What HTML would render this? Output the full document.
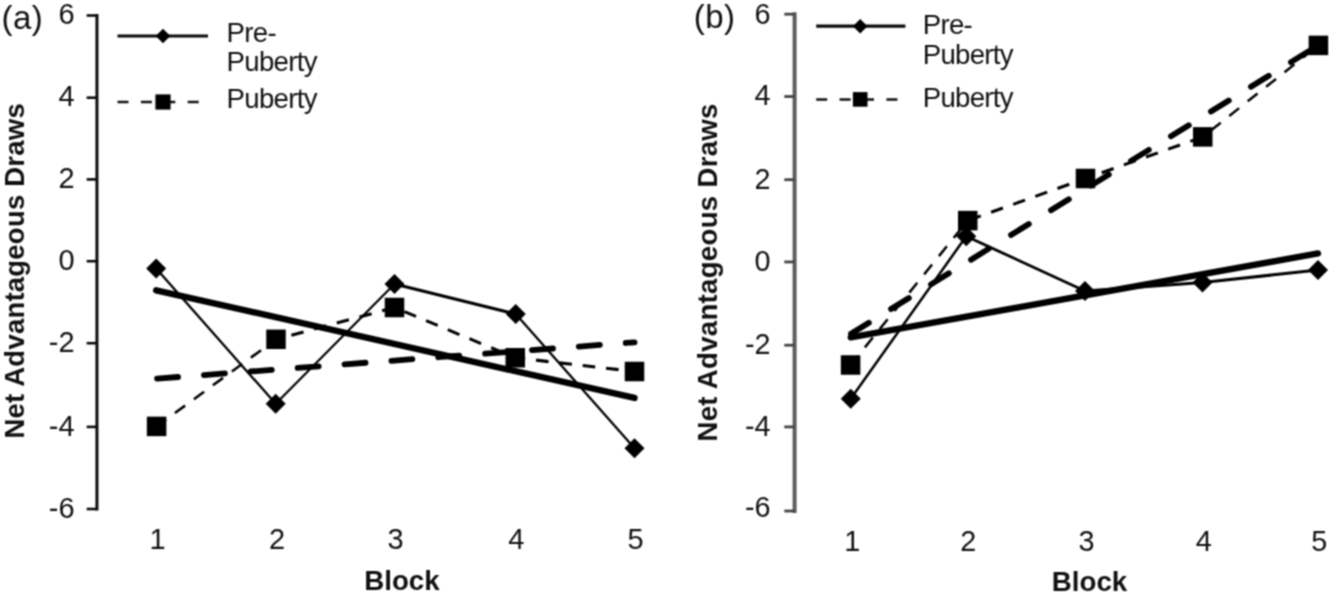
<!DOCTYPE html>
<html><head><meta charset="utf-8"><title>Figure</title>
<style>
html,body{margin:0;padding:0;background:#fff;}
body{width:1329px;height:592px;overflow:hidden;}
svg{display:block;font-family:"Liberation Sans",sans-serif;fill:#111;}
.b{font-weight:bold;}
</style></head><body>
<svg width="1329" height="592" viewBox="0 0 1329 592">
<defs><filter id="soft" x="0" y="0" width="1329" height="592" filterUnits="userSpaceOnUse" color-interpolation-filters="sRGB"><feConvolveMatrix order="3" kernelMatrix="1 2 1 2 4 2 1 2 1" divisor="16" edgeMode="duplicate" preserveAlpha="false"/></filter></defs>
<g filter="url(#soft)">
<rect x="0" y="0" width="1329" height="592" fill="#ffffff"/>

<line x1="96.95" y1="14.00" x2="96.95" y2="510.50" stroke="#0a0a0a" stroke-width="3.0"/>
<line x1="86.65" y1="15.50" x2="96.95" y2="15.50" stroke="#0a0a0a" stroke-width="2.6"/>
<text x="74.6" y="24.10" font-size="29" text-anchor="end">6</text>
<line x1="86.65" y1="97.70" x2="96.95" y2="97.70" stroke="#0a0a0a" stroke-width="2.6"/>
<text x="74.6" y="106.30" font-size="29" text-anchor="end">4</text>
<line x1="86.65" y1="179.40" x2="96.95" y2="179.40" stroke="#0a0a0a" stroke-width="2.6"/>
<text x="74.6" y="188.00" font-size="29" text-anchor="end">2</text>
<line x1="86.65" y1="261.20" x2="96.95" y2="261.20" stroke="#0a0a0a" stroke-width="2.6"/>
<text x="74.6" y="269.80" font-size="29" text-anchor="end">0</text>
<line x1="86.65" y1="343.20" x2="96.95" y2="343.20" stroke="#0a0a0a" stroke-width="2.6"/>
<text x="74.6" y="351.80" font-size="29" text-anchor="end">-2</text>
<line x1="86.65" y1="426.90" x2="96.95" y2="426.90" stroke="#0a0a0a" stroke-width="2.6"/>
<text x="74.6" y="435.50" font-size="29" text-anchor="end">-4</text>
<line x1="86.65" y1="509.00" x2="96.95" y2="509.00" stroke="#0a0a0a" stroke-width="2.6"/>
<text x="74.6" y="517.60" font-size="29" text-anchor="end">-6</text>
<text x="157.60" y="549.3" font-size="29" text-anchor="middle">1</text>
<text x="277.00" y="549.3" font-size="29" text-anchor="middle">2</text>
<text x="395.60" y="549.3" font-size="29" text-anchor="middle">3</text>
<text x="516.20" y="549.3" font-size="29" text-anchor="middle">4</text>
<text x="635.60" y="549.3" font-size="29" text-anchor="middle">5</text>
<text class="b" x="401.9" y="590.2" font-size="27.7" text-anchor="middle">Block</text>
<text class="b" transform="translate(24.1 270.8) rotate(-90)" font-size="27.5" letter-spacing="0.22" text-anchor="middle">Net Advantageous Draws</text>
<text x="1.5" y="29.3" font-size="33" letter-spacing="0.4">(a)</text>
<line x1="156.20" y1="290.28" x2="634.50" y2="397.99" stroke="#000" stroke-width="6.4" stroke-linecap="round"/>
<line x1="156.60" y1="378.64" x2="634.50" y2="342.31" stroke="#000" stroke-width="5.8" stroke-linecap="round" stroke-dasharray="21 26" stroke-dashoffset="-0.5"/>
<line x1="156.20" y1="268.60" x2="275.70" y2="403.80" stroke="#000" stroke-width="2.32"/>
<line x1="275.70" y1="403.80" x2="394.50" y2="284.00" stroke="#000" stroke-width="2.20"/>
<line x1="394.50" y1="284.00" x2="515.75" y2="314.00" stroke="#000" stroke-width="3.01"/>
<line x1="515.75" y1="314.00" x2="634.50" y2="448.25" stroke="#000" stroke-width="2.32"/>
<line x1="156.60" y1="426.40" x2="276.00" y2="339.30" stroke="#000" stroke-width="2.59" stroke-dasharray="12.6 10.9" stroke-dashoffset="0.80"/>
<line x1="276.00" y1="339.30" x2="394.50" y2="307.50" stroke="#000" stroke-width="3.09" stroke-dasharray="12.6 10.9" stroke-dashoffset="7.59"/>
<line x1="394.50" y1="307.50" x2="515.25" y2="357.75" stroke="#000" stroke-width="2.95" stroke-dasharray="12.6 10.9" stroke-dashoffset="12.79"/>
<line x1="515.25" y1="357.75" x2="634.50" y2="371.50" stroke="#000" stroke-width="3.18" stroke-dasharray="12.6 10.9" stroke-dashoffset="2.57"/>
<path d="M156.20 258.60L166.20 268.60L156.20 278.60L146.20 268.60Z" fill="#000"/>
<path d="M275.70 393.80L285.70 403.80L275.70 413.80L265.70 403.80Z" fill="#000"/>
<path d="M394.50 274.00L404.50 284.00L394.50 294.00L384.50 284.00Z" fill="#000"/>
<path d="M515.75 304.00L525.75 314.00L515.75 324.00L505.75 314.00Z" fill="#000"/>
<path d="M634.50 438.25L644.50 448.25L634.50 458.25L624.50 448.25Z" fill="#000"/>
<rect x="146.85" y="416.65" width="19.5" height="19.5" fill="#000"/>
<rect x="266.25" y="329.55" width="19.5" height="19.5" fill="#000"/>
<rect x="384.75" y="297.75" width="19.5" height="19.5" fill="#000"/>
<rect x="505.50" y="348.00" width="19.5" height="19.5" fill="#000"/>
<rect x="624.75" y="361.75" width="19.5" height="19.5" fill="#000"/>
<line x1="117.5" y1="36.0" x2="208" y2="36.0" stroke="#0a0a0a" stroke-width="3.2"/>
<path d="M163.00 28.70L170.30 36.00L163.00 43.30L155.70 36.00Z" fill="#000"/>
<line x1="117.5" y1="102" x2="208" y2="102" stroke="#111" stroke-width="2.5" stroke-dasharray="11 12.4"/>
<rect x="155.40" y="94.40" width="15.2" height="15.2" fill="#000"/>
<text x="226.6" y="42.1" font-size="27.6" letter-spacing="-0.7">Pre-</text>
<text x="226.6" y="71.3" font-size="27.6" letter-spacing="-0.7">Puberty</text>
<text x="226.6" y="108" font-size="27.6" letter-spacing="-0.7">Puberty</text>
<line x1="794.6" y1="12.20" x2="794.6" y2="513.00" stroke="#5c5c5c" stroke-width="4.0"/>
<line x1="784.3000000000001" y1="14.20" x2="794.6" y2="14.20" stroke="#454545" stroke-width="2.8"/>
<text x="770.6" y="23.60" font-size="28.8" text-anchor="end">6</text>
<line x1="784.3000000000001" y1="96.50" x2="794.6" y2="96.50" stroke="#454545" stroke-width="2.8"/>
<text x="770.6" y="105.10" font-size="28.8" text-anchor="end">4</text>
<line x1="784.3000000000001" y1="179.70" x2="794.6" y2="179.70" stroke="#454545" stroke-width="2.8"/>
<text x="770.6" y="189.00" font-size="28.8" text-anchor="end">2</text>
<line x1="784.3000000000001" y1="261.95" x2="794.6" y2="261.95" stroke="#454545" stroke-width="2.8"/>
<text x="770.6" y="271.10" font-size="28.8" text-anchor="end">0</text>
<line x1="784.3000000000001" y1="345.20" x2="794.6" y2="345.20" stroke="#454545" stroke-width="2.8"/>
<text x="770.6" y="354.10" font-size="28.8" text-anchor="end">-2</text>
<line x1="784.3000000000001" y1="426.90" x2="794.6" y2="426.90" stroke="#454545" stroke-width="2.8"/>
<text x="770.6" y="435.60" font-size="28.8" text-anchor="end">-4</text>
<line x1="784.3000000000001" y1="511.00" x2="794.6" y2="511.00" stroke="#454545" stroke-width="2.8"/>
<text x="770.6" y="517.40" font-size="28.8" text-anchor="end">-6</text>
<text x="852.20" y="550.8" font-size="28.8" text-anchor="middle">1</text>
<text x="968.20" y="550.8" font-size="28.8" text-anchor="middle">2</text>
<text x="1086.40" y="550.8" font-size="28.8" text-anchor="middle">3</text>
<text x="1203.80" y="550.8" font-size="28.8" text-anchor="middle">4</text>
<text x="1319.30" y="550.8" font-size="28.8" text-anchor="middle">5</text>
<text class="b" x="1089.5" y="591.3" font-size="27.7" text-anchor="middle">Block</text>
<text class="b" transform="translate(716.8 272.4) rotate(-90)" font-size="27.6" letter-spacing="0.3" text-anchor="middle">Net Advantageous Draws</text>
<text x="693.8" y="28.2" font-size="33" letter-spacing="0.4">(b)</text>
<line x1="850.75" y1="337.38" x2="1318.00" y2="253.46" stroke="#000" stroke-width="6.4" stroke-linecap="round"/>
<line x1="850.60" y1="334.02" x2="1318.40" y2="45.16" stroke="#000" stroke-width="5.8" stroke-linecap="round" stroke-dasharray="21 26" stroke-dashoffset="-0.5"/>
<line x1="850.75" y1="398.75" x2="966.25" y2="236.25" stroke="#000" stroke-width="2.53"/>
<line x1="966.25" y1="236.25" x2="1085.00" y2="291.00" stroke="#000" stroke-width="2.82"/>
<line x1="1085.00" y1="291.00" x2="1202.50" y2="282.50" stroke="#000" stroke-width="3.09"/>
<line x1="1202.50" y1="282.50" x2="1318.00" y2="270.00" stroke="#000" stroke-width="3.08"/>
<line x1="850.60" y1="365.00" x2="967.75" y2="220.60" stroke="#000" stroke-width="2.49" stroke-dasharray="12.6 10.9" stroke-dashoffset="0.80"/>
<line x1="967.75" y1="220.60" x2="1085.50" y2="178.50" stroke="#000" stroke-width="3.01" stroke-dasharray="12.6 10.9" stroke-dashoffset="22.24"/>
<line x1="1085.50" y1="178.50" x2="1202.75" y2="136.90" stroke="#000" stroke-width="3.02" stroke-dasharray="12.6 10.9" stroke-dashoffset="6.29"/>
<line x1="1202.75" y1="136.90" x2="1318.40" y2="45.40" stroke="#000" stroke-width="2.51" stroke-dasharray="12.6 10.9" stroke-dashoffset="13.21"/>
<path d="M850.75 388.75L860.75 398.75L850.75 408.75L840.75 398.75Z" fill="#000"/>
<path d="M966.25 226.25L976.25 236.25L966.25 246.25L956.25 236.25Z" fill="#000"/>
<path d="M1085.00 281.00L1095.00 291.00L1085.00 301.00L1075.00 291.00Z" fill="#000"/>
<path d="M1202.50 272.50L1212.50 282.50L1202.50 292.50L1192.50 282.50Z" fill="#000"/>
<path d="M1318.00 260.00L1328.00 270.00L1318.00 280.00L1308.00 270.00Z" fill="#000"/>
<rect x="840.85" y="355.25" width="19.5" height="19.5" fill="#000"/>
<rect x="958.00" y="210.85" width="19.5" height="19.5" fill="#000"/>
<rect x="1075.75" y="168.75" width="19.5" height="19.5" fill="#000"/>
<rect x="1193.00" y="127.15" width="19.5" height="19.5" fill="#000"/>
<rect x="1308.65" y="35.65" width="19.5" height="19.5" fill="#000"/>
<line x1="816.2" y1="26.2" x2="905.4" y2="26.2" stroke="#0a0a0a" stroke-width="3.2"/>
<path d="M860.20 18.90L867.50 26.20L860.20 33.50L852.90 26.20Z" fill="#000"/>
<line x1="816.2" y1="99.4" x2="905.4" y2="99.4" stroke="#111" stroke-width="2.5" stroke-dasharray="11 12.4"/>
<rect x="852.90" y="92.10" width="14.6" height="14.6" fill="#000"/>
<text x="922.7" y="33.5" font-size="27.6" letter-spacing="-0.7">Pre-</text>
<text x="922.7" y="63.5" font-size="27.6" letter-spacing="-0.7">Puberty</text>
<text x="922.7" y="106.6" font-size="27.6" letter-spacing="-0.7">Puberty</text>
</g></svg></body></html>
